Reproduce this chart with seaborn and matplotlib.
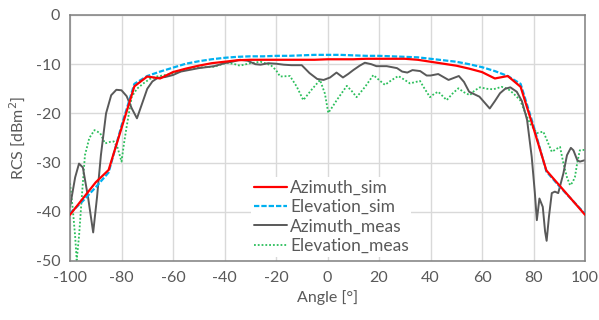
import matplotlib
matplotlib.use("Agg")
import matplotlib.pyplot as plt
import seaborn as sns
import pandas as pd

# ---------------- data ----------------
sim_angles = [-100, -95, -90, -85, -80, -75, -70, -65, -60, -55, -50, -45, -40, -35, -30,
              -25, -20, -15, -10, -5, 0, 5, 10, 15, 20, 25, 30, 35, 40, 45, 50, 55, 60,
              65, 70, 75, 80, 85, 90, 95, 100]
azimuth_sim = [-40.6, -37.3, -34.0, -31.5, -23.0, -14.5, -12.5, -12.9, -11.6, -10.9, -10.3,
               -9.8, -9.5, -9.2, -9.1, -9.1, -9.1, -9.1, -9.1, -9.1, -9.0, -9.0, -9.0, -8.9,
               -8.9, -8.9, -8.9, -9.1, -9.5, -9.9, -10.3, -10.9, -11.6, -12.9, -12.4, -14.6,
               -23.0, -31.6, -34.6, -37.6, -40.6]
elevation_sim = [-40.3, -37.8, -35.0, -32.0, -22.5, -14.0, -12.4, -11.5, -10.7, -9.9, -9.4,
                 -9.0, -8.7, -8.5, -8.4, -8.4, -8.3, -8.3, -8.2, -8.1, -8.1, -8.1, -8.2, -8.3,
                 -8.3, -8.4, -8.5, -8.6, -8.9, -9.2, -9.5, -10.0, -10.6, -11.4, -12.4, -14.0,
                 -22.5, -31.8, -34.8, -37.6, -40.4]

az_meas_angles = [-100, -98, -96.5, -95, -93, -91, -89.5, -88, -86, -84, -82, -80, -78, -76,
                  -74, -72, -70, -68, -66, -63, -60, -57, -54, -50, -47, -44, -40, -37, -34,
                  -31, -28, -26, -23, -20, -17, -14, -10, -7, -4, -1.5, 1, 3.5, 6, 8, 10,
                  12.5, 14.5, 17, 19, 23, 27, 29, 31, 33, 36, 38.5, 40, 43, 47, 51, 53, 55,
                  59, 61, 63, 65, 67, 69, 71, 73.5, 75.5, 77.5, 79.3, 80.5, 81.3, 82.3, 83.6,
                  84.5, 85.1, 86, 87.1, 88.3, 89.6, 91.6, 93, 94.5, 95.5, 97, 98, 100]
azimuth_meas = [-39.0, -33.0, -30.2, -31.0, -37.0, -44.2, -37.0, -28.5, -20.0, -16.3, -15.2,
                -15.3, -16.5, -19.0, -21.0, -18.0, -15.0, -13.5, -12.8, -12.6, -12.2, -11.5,
                -11.2, -10.8, -10.6, -10.4, -9.8, -9.5, -9.1, -9.3, -10.0, -10.1, -9.8, -9.9,
                -10.1, -10.2, -10.2, -11.8, -13.0, -13.2, -12.7, -11.7, -12.7, -12.0, -11.2,
                -10.3, -9.7, -10.0, -10.4, -10.4, -10.8, -11.5, -11.7, -11.2, -11.4, -12.3,
                -12.3, -12.0, -13.2, -12.4, -13.6, -15.6, -16.6, -17.8, -19.0, -17.5, -15.9,
                -15.0, -14.7, -15.6, -17.5, -21.3, -28.8, -36.0, -41.7, -37.3, -39.0, -44.0,
                -45.9, -41.0, -36.2, -35.9, -36.2, -32.2, -28.5, -27.0, -27.5, -29.5, -29.8,
                -29.5]

el_meas_angles = [-100, -99, -98, -97.4, -96.5, -95.5, -94.2, -92.5, -90.5, -88.3, -86.4,
                  -84.5, -83, -81.5, -80, -79, -78, -76, -74, -71.5, -69, -66.3, -63, -60,
                  -56, -52, -48, -44, -41, -39, -36, -34, -30, -26, -22, -20, -18.4, -14.6,
                  -12, -9.4, -6.2, -2.9, -1, 0.3, 2, 3.6, 7.5, 9.5, 11.3, 14.6, 17.8, 20,
                  22.3, 25, 27.5, 30, 32, 35.9, 37.5, 39.8, 41.5, 43, 46.3, 48.5, 50.8, 53,
                  55.3, 57, 59.2, 62, 64.4, 67.6, 70, 72.1, 74.8, 76.5, 78.6, 81.3, 83.8,
                  85.5, 87.1, 89, 90.3, 91.6, 93, 94.2, 95.2, 96.1, 97, 98, 100]
elevation_meas = [-34.2, -39.0, -45.0, -49.8, -45.0, -37.6, -28.5, -25.0, -23.4, -24.0, -26.1,
                  -25.8, -25.7, -27.0, -29.8, -26.0, -22.7, -16.6, -15.0, -13.9, -13.0, -12.5,
                  -12.2, -11.9, -11.3, -10.8, -10.6, -10.5, -10.0, -9.7, -10.0, -10.3, -9.8,
                  -9.5, -10.2, -11.2, -12.5, -12.4, -14.5, -17.3, -15.2, -13.2, -16.0, -19.9,
                  -18.6, -17.3, -14.4, -15.5, -16.7, -14.6, -12.2, -13.2, -14.2, -13.2, -12.4,
                  -13.2, -13.9, -13.4, -14.8, -16.7, -16.0, -15.6, -17.3, -16.0, -14.9, -15.7,
                  -16.3, -15.4, -14.7, -15.0, -15.1, -14.6, -15.0, -15.9, -17.3, -19.5, -22.0,
                  -24.0, -23.7, -25.8, -27.8, -27.2, -26.8, -30.1, -33.0, -34.6, -34.0, -32.9,
                  -30.0, -27.5, -27.4]

series_labels = ["Azimuth_sim", "Elevation_sim", "Azimuth_meas", "Elevation_meas"]
x_ticks = [-100, -80, -60, -40, -20, 0, 20, 40, 60, 80, 100]
y_ticks = [0, -10, -20, -30, -40, -50]

# ---------------- style ----------------
sns.set_style("white")
plt.rcParams['font.family'] = ['Lato', 'DejaVu Sans']
text_color = "#595959"

fig = plt.figure(figsize=(5.99, 3.20), dpi=100)
ax = fig.add_axes([70 / 599, 59 / 320, 515 / 599, 246 / 320])

df_sim = pd.DataFrame({"angle": sim_angles, "az": azimuth_sim, "el": elevation_sim})
df_az = pd.DataFrame({"angle": az_meas_angles, "val": azimuth_meas})
df_el = pd.DataFrame({"angle": el_meas_angles, "val": elevation_meas})

sns.lineplot(data=df_sim, x="angle", y="az", ax=ax, color="#ff0000", linewidth=1.6,
             label=series_labels[0], errorbar=None, sort=False, zorder=4)
sns.lineplot(data=df_sim, x="angle", y="el", ax=ax, color="#00b0f0", linewidth=1.6,
             label=series_labels[1], errorbar=None, sort=False, zorder=3)
sns.lineplot(data=df_az, x="angle", y="val", ax=ax, color="#595959", linewidth=1.4,
             label=series_labels[2], errorbar=None, sort=False, zorder=2)
sns.lineplot(data=df_el, x="angle", y="val", ax=ax, color="#2cbf5c", linewidth=1.3,
             label=series_labels[3], errorbar=None, sort=False, zorder=1)

lines = ax.get_lines()
lines[1].set_linestyle((0, (2.4, 0.9)))
lines[3].set_linestyle((0, (1, 1.1)))

ax.set_xlim(-100, 100)
ax.set_ylim(-50, 0)
ax.set_xticks(x_ticks)
ax.set_yticks(y_ticks)
ax.set_xticklabels([str(t) for t in x_ticks])
ax.set_yticklabels([str(t) for t in y_ticks])
ax.grid(True, color="#d9d9d9", linewidth=1.0)
ax.set_axisbelow(True)
for sp in ax.spines.values():
    sp.set_visible(True)
    sp.set_color("#7f7f7f")
    sp.set_linewidth(1.1)
ax.tick_params(axis="both", colors=text_color, labelsize=11.5, length=0, pad=7)
ax.set_xlabel("Angle [°]", fontsize=11.5, color=text_color, labelpad=4)
ax.set_ylabel("RCS [dBm$^2$]", fontsize=11.5, color=text_color, labelpad=6)

leg = ax.legend(loc="upper left", bbox_to_anchor=((251 - 70) / 515, (261 - 177) / 246),
                fontsize=12.5, frameon=True, facecolor="white", edgecolor="none",
                framealpha=1, borderpad=0.15, labelspacing=0.2, handlelength=1.9,
                handletextpad=0.2, borderaxespad=0)
for t in leg.get_texts():
    t.set_color(text_color)

fig.savefig("out.png", dpi=100)
